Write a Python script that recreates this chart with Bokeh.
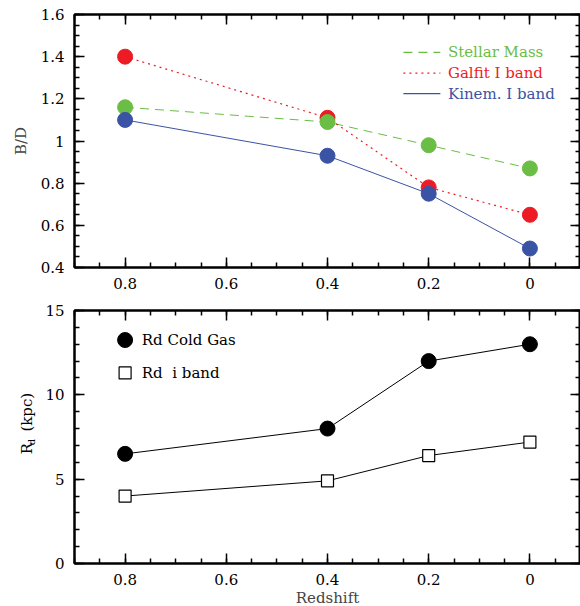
import math
from bokeh.plotting import figure
from bokeh.layouts import column, row
from bokeh.models import Range1d, LinearAxis, FixedTicker, CustomJSTickFormatter
from bokeh.embed import file_html
from bokeh.resources import INLINE
from bokeh.core.properties import value

# ---- data ----
redshift = [0.8, 0.4, 0.2, 0.0]
stellar_mass = [1.16, 1.09, 0.98, 0.87]
galfit_i_band = [1.40, 1.11, 0.78, 0.65]
kinem_i_band = [1.10, 0.93, 0.75, 0.49]
rd_cold_gas = [6.5, 8.0, 12.0, 13.0]
rd_i_band = [4.0, 4.9, 6.4, 7.2]

x_major = [0.0, 0.2, 0.4, 0.6, 0.8]
x_minor = [round(-0.1 + 0.05 * i, 2) for i in range(21)]
bd_major = [0.4, 0.6, 0.8, 1.0, 1.2, 1.4, 1.6]
bd_minor = [round(0.4 + 0.05 * i, 2) for i in range(25)]
rd_major = [0, 5, 10, 15]
rd_minor = list(range(0, 16))

GREEN = "#6ABD45"
RED = "#ED1C24"
BLUE = "#3A53A4"
FONT = "DejaVu Serif"

fmt_code = "return String(Math.round(tick*100)/100);"
blank_code = "return '';"


def style_axes(p, xt, xm, yt, ym, xlabel=None, ylabel=None):
    p.xaxis.visible = False
    p.yaxis.visible = False
    axes = {
        "below": LinearAxis(ticker=FixedTicker(ticks=xt, minor_ticks=xm)),
        "above": LinearAxis(ticker=FixedTicker(ticks=xt, minor_ticks=xm)),
        "left": LinearAxis(ticker=FixedTicker(ticks=yt, minor_ticks=ym)),
        "right": LinearAxis(ticker=FixedTicker(ticks=yt, minor_ticks=ym)),
    }
    for side, ax in axes.items():
        ax.major_tick_in = 10
        ax.major_tick_out = 0
        ax.minor_tick_in = 5
        ax.minor_tick_out = 0
        ax.axis_line_width = 2
        ax.major_tick_line_width = 1.5
        ax.minor_tick_line_width = 1.5
        ax.major_label_text_font = FONT
        ax.major_label_text_font_size = "15px"
        ax.major_label_text_color = "black"
        ax.axis_label_text_font = FONT
        ax.axis_label_text_font_size = "15px"
        ax.axis_label_text_font_style = "normal"
        if side in ("above", "right"):
            ax.formatter = CustomJSTickFormatter(code=blank_code)
            ax.major_label_standoff = 0
        else:
            ax.formatter = CustomJSTickFormatter(code=fmt_code)
            ax.major_label_standoff = 10
        p.add_layout(ax, side)
    if xlabel:
        axes["below"].axis_label = xlabel
        axes["below"].axis_label_standoff = 1
    if ylabel:
        axes["left"].axis_label = ylabel
        axes["left"].axis_label_standoff = 8
    return axes


# ---- top panel: B/D ----
p1 = figure(frame_width=506, frame_height=253, output_backend="svg", toolbar_location=None,
            x_range=Range1d(0.9, -0.1), y_range=Range1d(0.4, 1.6),
            min_border_left=74, min_border_right=0, min_border_top=14, min_border_bottom=30)
p1.grid.visible = False
p1.outline_line_color = "black"
p1.outline_line_width = 2
style_axes(p1, x_major, x_minor, bd_major, bd_minor, ylabel="B/D")

p1.line(redshift, stellar_mass, line_color=GREEN, line_width=1, line_dash="9 6")
p1.line(redshift, galfit_i_band, line_color=RED, line_width=1.2, line_dash="2 4")
p1.line(redshift, kinem_i_band, line_color=BLUE, line_width=1)
p1.scatter(redshift, galfit_i_band, size=15, color=RED)
p1.scatter(redshift, stellar_mass, size=15, color=GREEN)
p1.scatter(redshift, kinem_i_band, size=15, color=BLUE)

# legend (top)
leg_names = ["Stellar Mass", "Galfit I band", "Kinem. I band"]
leg_cols = [GREEN, RED, BLUE]
leg_dash = ["9 6", "2 4", "solid"]
leg_y = [1.42, 1.322, 1.225]
for name, col, dash, yy in zip(leg_names, leg_cols, leg_dash, leg_y):
    p1.line([0.25, 0.177], [yy, yy], line_color=col, line_width=1.2, line_dash=dash)
    p1.text([0.162], [yy], text=[name], text_color=col, text_font=value(FONT),
            text_font_size="15px", text_baseline="middle", text_align="left")

# ---- bottom panel: Rd ----
LBL_W = 40
p2 = figure(frame_width=506, frame_height=253, output_backend="svg", toolbar_location=None,
            x_range=Range1d(0.9, -0.1), y_range=Range1d(0, 15),
            min_border_left=74 - LBL_W, min_border_right=0, min_border_top=13, min_border_bottom=40)
p2.grid.visible = False
p2.outline_line_color = "black"
p2.outline_line_width = 2
style_axes(p2, x_major, x_minor, rd_major, rd_minor, xlabel="Redshift")

p2.line(redshift, rd_cold_gas, line_color="black", line_width=1)
p2.line(redshift, rd_i_band, line_color="black", line_width=1)
p2.scatter(redshift, rd_cold_gas, size=15, color="black")
p2.scatter(redshift, rd_i_band, marker="square", size=12, fill_color="white",
           line_color="black", line_width=1.2)

# legend (bottom)
p2.scatter([0.8], [13.25], size=15, color="black")
p2.scatter([0.8], [11.3], marker="square", size=12, fill_color="white",
           line_color="black", line_width=1.2)
p2.text([0.767, 0.767], [13.25, 11.3], text=["Rd Cold Gas", "Rd \u00a0i band"], text_color="black",
        text_font=value(FONT), text_font_size="15px", text_baseline="middle", text_align="left")

# ---- narrow strip holding the y-axis title R_d (kpc) (pixel coordinates) ----
LBL_H = 13 + 253 + 40
lf = figure(width=LBL_W, height=LBL_H, output_backend="svg", toolbar_location=None,
            x_range=Range1d(0, LBL_W), y_range=Range1d(0, LBL_H),
            min_border_left=0, min_border_right=0, min_border_top=0, min_border_bottom=0)
lf.axis.visible = False
lf.grid.visible = False
lf.outline_line_color = None
lf.text([26, 26], [128, 156], text=["R", "(kpc)"], angle=math.pi / 2, text_color="black",
        text_font=value(FONT), text_font_size="15px", text_baseline="middle", text_align="left")
lf.text([31], [139], text=["d"], angle=math.pi / 2, text_color="black",
        text_font=value(FONT), text_font_size="10px", text_baseline="middle", text_align="left")

layout = column(p1, row(lf, p2, spacing=0), spacing=0)
open("out.html", "w").write(file_html(layout, INLINE))
